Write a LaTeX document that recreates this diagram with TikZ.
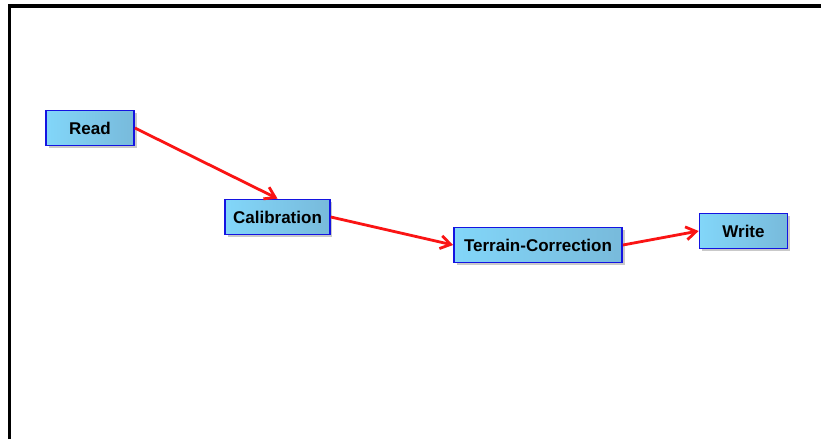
\documentclass[tikz,border=0pt]{standalone}
\usepackage{fontspec}
\setmainfont{Liberation Sans}
\usetikzlibrary{arrows.meta,shadows}
\definecolor{boxleft}{RGB}{130,214,249}
\definecolor{boxright}{RGB}{120,186,219}
\definecolor{boxline}{RGB}{20,20,225}
\definecolor{edgered}{RGB}{250,20,20}
\tikzset{
  opbox/.style={draw=boxline, line width=1.8pt, left color=boxleft, right color=boxright,
    minimum width=88pt, minimum height=35pt, inner xsep=8pt,
    font=\fontsize{17}{19}\selectfont\bfseries,
    drop shadow={shadow xshift=2.5pt, shadow yshift=-2.5pt, opacity=.35, fill=black!60}},
  flow/.style={edgered, line width=2.8pt, -{Straight Barb[length=10pt,width=13pt]}}
}
\begin{document}
\begin{tikzpicture}[x=1pt,y=-1pt]
	\useasboundingbox (0,0) rectangle (821,439);
	\fill[white] (0,0) rectangle (821,439);
	\draw [line width=3.5pt] (9.5,439) -- (9.5,6) -- (821,6);
	\node [opbox] (read) at (90,128) {Read};
	\node [opbox] (calib) at (277.5,217) {Calibration};
	\node [opbox, minimum width=168pt] (terrain) at (538,245) {Terrain-Correction};
	\node [opbox] (write) at (743.5,231) {Write};
	\draw [flow] (read.east) -- (calib.north);
	\draw [flow] (calib.east) -- (terrain.west);
	\draw [flow] (terrain.east) -- (write.west);
\end{tikzpicture}
\end{document}
